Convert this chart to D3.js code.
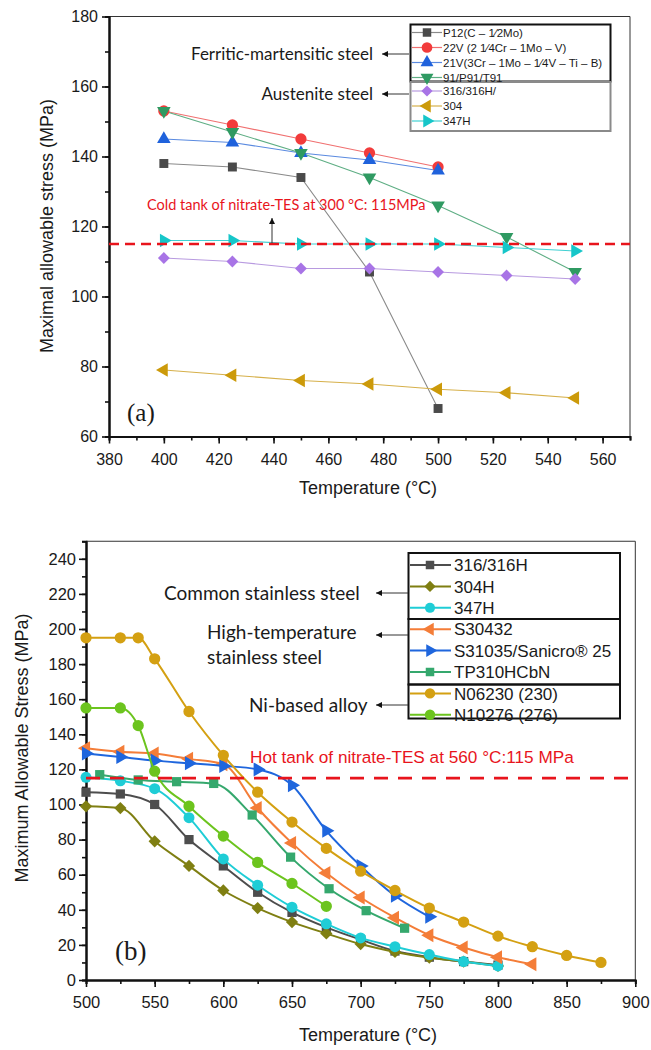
<!DOCTYPE html>
<html>
<head>
<meta charset="utf-8">
<script src="https://cdn.jsdelivr.net/npm/d3@7"></script>
<style>
  body { margin: 0; background: #fff; }
  svg { display: block; }
  text { font-family: "Liberation Sans", Arial, sans-serif; fill: #1a1a1a; }
</style>
</head>
<body>
<svg id="fig" width="651" height="1050"></svg>
<script>
// ---------- Panel (a): ferritic-martensitic and austenitic steels ----------
const tempsA = [400, 425, 450, 475, 500, 525, 550];
const p12Vals = [138, 137, 134, 107, 68];
const v22Vals = [153, 149, 145, 141, 137];
const v21Vals = [145, 144, 141, 139, 136];
const p91Vals = [153, 147, 141, 134, 126, 117, 107];
const ss316Vals = [111, 110, 108, 108, 107, 106, 105];
const ss304Vals = [79, 77.5, 76, 75, 73.5, 72.5, 71];
const ss347Vals = [116, 116, 115, 115, 115, 114, 113];
const xTicksA = [380, 400, 420, 440, 460, 480, 500, 520, 540, 560];
const yTicksA = [60, 80, 100, 120, 140, 160, 180];
const coldTankLimit = 115;
const legendNamesA = ["P12(C – 1⁄2Mo)", "22V (2 1⁄4Cr – 1Mo – V)", "21V(3Cr – 1Mo – 1⁄4V – Ti – B)",
  "91/P91/T91", "316/316H/", "304", "347H"];

// ---------- Panel (b): stainless steels and Ni-based alloys ----------
const tempsStd = [500, 525, 550, 575, 600, 625, 650, 675, 700, 725, 750, 775, 800];
const b316Vals = [107, 106, 100, 80, 65, 50, 38.5, 30, 23, 16.5, 13, 10.5, 8.5];
const b304hVals = [99, 98, 79, 65, 51, 41, 33, 26.5, 20.5, 16, 12.7, 10.5, 8];
const b347hVals = [115.5, 113.5, 109, 92.5, 69, 54, 41.5, 32, 24, 19, 14.5, 10.5, 8];
const tempsS30432 = [500, 525, 550, 575, 600, 625, 650, 675, 700, 725, 750, 775, 800, 825];
const s30432Vals = [132, 130, 129, 126, 123, 98, 78, 61, 47, 35.5, 25.5, 18.5, 13, 9];
const tempsS31035 = [500, 525, 550, 575, 600, 625, 650, 675, 700, 725, 750];
const s31035Vals = [129, 127, 125, 123.5, 122, 120, 111, 85, 65, 48, 36];
const tempsTP310 = [510, 538, 566, 593, 621, 649, 677, 704, 732];
const tp310Vals = [117, 114, 113, 112, 94, 70, 52, 39.5, 29.5];
const tempsN06230 = [500, 525, 538, 550, 575, 600, 625, 650, 675, 700, 725, 750, 775, 800, 825, 850, 875];
const n06230Vals = [195, 195, 195, 183, 153, 128, 107, 90, 75, 62, 51, 41, 33, 25, 19, 14, 10];
const tempsN10276 = [500, 525, 538, 550, 575, 600, 625, 650, 675];
const n10276Vals = [155, 155, 145, 119, 99, 82, 67, 55, 42];
const xTicksB = [500, 550, 600, 650, 700, 750, 800, 850, 900];
const yTicksB = [0, 20, 40, 60, 80, 100, 120, 140, 160, 180, 200, 220, 240];
const hotTankLimit = 115;
const legendNamesB = ["316/316H", "304H", "347H", "S30432", "S31035/Sanicro® 25", "TP310HCbN",
  "N06230 (230)", "N10276 (276)"];

const svg = d3.select("#fig");

// marker shapes: d3 symbol + rotation
const shapes = {
  square: [d3.symbolSquare, 0],
  circle: [d3.symbolCircle, 0],
  triUp: [d3.symbolTriangle, 0],
  triDown: [d3.symbolTriangle, 180],
  triLeft: [d3.symbolTriangle, -90],
  triRight: [d3.symbolTriangle, 90],
  diamond: [d3.symbolSquare, 45]
};
function drawMarker(g, shape, x, y, size, color) {
  const [type, rot] = shapes[shape];
  g.append("path")
    .attr("d", d3.symbol().type(type).size(size)())
    .attr("transform", `translate(${x},${y}) rotate(${rot})`)
    .attr("fill", color);
}

// straight pointer line ending in a small filled arrowhead at (x2, y2)
function drawArrow(g, x1, y1, x2, y2) {
  g.append("line").attr("x1", x1).attr("y1", y1).attr("x2", x2).attr("y2", y2)
    .attr("stroke", "#333").attr("stroke-width", 1);
  const ang = Math.atan2(y2 - y1, x2 - x1) * 180 / Math.PI;
  g.append("path").attr("d", "M0,0 L-6,-3 L-6,3 Z")
    .attr("transform", `translate(${x2},${y2}) rotate(${ang})`)
    .attr("fill", "#111");
}

function drawAxes(g, x, y, xTicks, yTicks, xMinor, yMinor, fontSize, padX, padY) {
  const [x0, x1] = x.range();
  const [y0, y1] = y.range();
  // thin frame on top and right
  g.append("path").attr("d", `M${x0},${y1}H${x1}V${y0}`)
    .attr("fill", "none").attr("stroke", "#333").attr("stroke-width", 1);

  const minorX = g.append("g").attr("transform", `translate(0,${y0})`)
    .call(d3.axisBottom(x).tickValues(xMinor).tickSize(4).tickFormat(""));
  const majorX = g.append("g").attr("transform", `translate(0,${y0})`)
    .call(d3.axisBottom(x).tickValues(xTicks).tickSize(7).tickPadding(padX).tickSizeOuter(0));
  const minorY = g.append("g").attr("transform", `translate(${x0},0)`)
    .call(d3.axisLeft(y).tickValues(yMinor).tickSize(4).tickFormat(""));
  const majorY = g.append("g").attr("transform", `translate(${x0},0)`)
    .call(d3.axisLeft(y).tickValues(yTicks).tickSize(7).tickPadding(padY).tickSizeOuter(0));
  [minorX, majorX, minorY, majorY].forEach(a => {
    a.selectAll("path.domain").attr("stroke", "#111").attr("stroke-width", 2);
    a.selectAll("line").attr("stroke", "#111").attr("stroke-width", 1.6);
    a.selectAll("text").attr("font-size", fontSize)
      .attr("font-family", "'Liberation Sans', Arial, sans-serif").attr("fill", "#1a1a1a");
  });
}

// ================= Panel (a) =================
const xA = d3.scaleLinear().domain([380, 570]).range([109, 630]);
const yA = d3.scaleLinear().domain([60, 180]).range([436.5, 16.5]);
const gA = svg.append("g");

drawAxes(gA, xA, yA, xTicksA, yTicksA,
  d3.range(380, 571, 10), d3.range(60, 181, 10), 16, 10, 4);

const seriesA = [
  { name: legendNamesA[0], t: tempsA, v: p12Vals, shape: "square", color: "#4a4a4a", line: "#8a8a8a", size: 80 },
  { name: legendNamesA[1], t: tempsA, v: v22Vals, shape: "circle", color: "#f23b3b", line: "#f07070", size: 100 },
  { name: legendNamesA[2], t: tempsA, v: v21Vals, shape: "triUp", color: "#1f62dc", line: "#5a8ae0", size: 80 },
  { name: legendNamesA[3], t: tempsA, v: p91Vals, shape: "triDown", color: "#2f9a62", line: "#5eae84", size: 80 },
  { name: legendNamesA[4], t: tempsA, v: ss316Vals, shape: "diamond", color: "#a874e6", line: "#b89ae0", size: 70 },
  { name: legendNamesA[5], t: tempsA, v: ss304Vals, shape: "triLeft", color: "#cc9a0a", line: "#d6b04a", size: 80 },
  { name: legendNamesA[6], t: tempsA, v: ss347Vals, shape: "triRight", color: "#16c6c9", line: "#40d0d2", size: 80 }
];

const lineA = d3.line().x(d => xA(d[0])).y(d => yA(d[1]));
seriesA.forEach(s => {
  const pts = s.v.map((v, i) => [s.t[i], v]);
  gA.append("path").attr("d", lineA(pts)).attr("fill", "none")
    .attr("stroke", s.line).attr("stroke-width", 1.1);
});
// draw markers after all lines, in series order
seriesA.forEach(s => {
  s.v.forEach((v, i) => drawMarker(gA, s.shape, xA(s.t[i]), yA(v), s.size, s.color));
});

// cold tank threshold
gA.append("line")
  .attr("x1", xA.range()[0]).attr("x2", xA.range()[1])
  .attr("y1", yA(coldTankLimit)).attr("y2", yA(coldTankLimit))
  .attr("stroke", "#e8141c").attr("stroke-width", 2.6).attr("stroke-dasharray", "10,6");
gA.append("text").attr("x", 147).attr("y", 210)
  .style("font-family", "Lato, 'Open Sans', sans-serif").attr("font-size", 14.5)
  .style("fill", "#e8141c")
  .text(`Cold tank of nitrate-TES at 300 °C: ${coldTankLimit}MPa`);
drawArrow(gA, 272, yA(coldTankLimit) - 1, 272, 218);

// legend (a)
const legA = gA.append("g");
legA.append("rect").attr("x", 410.5).attr("y", 24.5).attr("width", 200).attr("height", 57)
  .attr("fill", "#fff").attr("stroke", "#111").attr("stroke-width", 2);
legA.append("rect").attr("x", 410.5).attr("y", 82).attr("width", 200).attr("height", 49)
  .attr("fill", "#fff").attr("stroke", "#8a8a8a").attr("stroke-width", 2);
seriesA.forEach((s, i) => {
  const yy = 32.5 + i * 15 - (i >= 4 ? 1.5 : 0);
  legA.append("line").attr("x1", 412).attr("x2", 442).attr("y1", yy).attr("y2", yy)
    .attr("stroke", s.line).attr("stroke-width", 1.2);
  drawMarker(legA, s.shape, 427, yy, s.size * 0.9, s.color);
  legA.append("text").attr("x", 443).attr("y", yy).attr("dy", "0.36em")
    .attr("font-size", 11.5).text(s.name);
});

// group labels (a)
const groupFont = "Lato, 'Open Sans', sans-serif";
[["Ferritic-martensitic steel", 54], ["Austenite steel", 94]].forEach(([label, yy]) => {
  drawArrow(gA, 409, yy, 382, yy);
  gA.append("text").attr("x", 373).attr("y", yy).attr("dy", "0.36em")
    .attr("text-anchor", "end").style("font-family", groupFont).attr("font-size", 17)
    .text(label);
});

// titles (a)
gA.append("text").attr("x", 368).attr("y", 494).attr("text-anchor", "middle")
  .attr("font-size", 18).text("Temperature (°C)");
gA.append("text").attr("transform", `translate(47,226) rotate(-90)`)
  .attr("text-anchor", "middle").attr("dy", "0.36em")
  .attr("font-size", 18).text("Maximal allowable stress (MPa)");
gA.append("text").attr("x", 127).attr("y", 421)
  .style("font-family", "'Liberation Serif', 'DejaVu Serif', serif").attr("font-size", 25).text("(a)");

// ================= Panel (b) =================
const xB = d3.scaleLinear().domain([500, 900]).range([86, 635.3]);
const yB = d3.scaleLinear().domain([0, 250]).range([980, 541.25]);
const gB = svg.append("g");

drawAxes(gB, xB, yB, xTicksB, yTicksB,
  d3.range(500, 901, 25), d3.range(0, 251, 10), 16.5, 9, 3);

const seriesB = [
  { name: legendNamesB[0], t: tempsStd, v: b316Vals, shape: "square", color: "#4d4d4d", size: 85 },
  { name: legendNamesB[1], t: tempsStd, v: b304hVals, shape: "diamond", color: "#7f7f12", size: 75 },
  { name: legendNamesB[2], t: tempsStd, v: b347hVals, shape: "circle", color: "#1fcdd6", size: 95 },
  { name: legendNamesB[3], t: tempsS30432, v: s30432Vals, shape: "triLeft", color: "#f47d38", size: 85 },
  { name: legendNamesB[4], t: tempsS31035, v: s31035Vals, shape: "triRight", color: "#1f66dd", size: 85 },
  { name: legendNamesB[5], t: tempsTP310, v: tp310Vals, shape: "square", color: "#35a86d", size: 85 },
  { name: legendNamesB[6], t: tempsN06230, v: n06230Vals, shape: "circle", color: "#d4a012", size: 100 },
  { name: legendNamesB[7], t: tempsN10276, v: n10276Vals, shape: "circle", color: "#6cc41e", size: 100 }
];

const lineB = d3.line().curve(d3.curveMonotoneX).x(d => xB(d[0])).y(d => yB(d[1]));
seriesB.forEach(s => {
  const pts = s.v.map((v, i) => [s.t[i], v]);
  gB.append("path").attr("d", lineB(pts)).attr("fill", "none")
    .attr("stroke", s.color).attr("stroke-width", 2);
  s.v.forEach((v, i) => drawMarker(gB, s.shape, xB(s.t[i]), yB(v), s.size, s.color));
});

// hot tank threshold
gB.append("line")
  .attr("x1", xB.range()[0]).attr("x2", xB.range()[1])
  .attr("y1", yB(hotTankLimit)).attr("y2", yB(hotTankLimit))
  .attr("stroke", "#e8141c").attr("stroke-width", 2.8).attr("stroke-dasharray", "14,10");
gB.append("text").attr("x", 250).attr("y", 763)
  .attr("font-size", 17.2).style("fill", "#e8141c")
  .text(`Hot tank of nitrate-TES at 560 °C:${hotTankLimit} MPa`);

// legend (b)
const legB = gB.append("g");
[[553, 66], [619, 65.5], [684.5, 34]].forEach(([y0, h]) => {
  legB.append("rect").attr("x", 408.5).attr("y", y0).attr("width", 211.5).attr("height", h)
    .attr("fill", "none").attr("stroke", "#111").attr("stroke-width", 2);
});
seriesB.forEach((s, i) => {
  const yy = 565 + i * 21.4;
  legB.append("line").attr("x1", 410).attr("x2", 451).attr("y1", yy).attr("y2", yy)
    .attr("stroke", s.color).attr("stroke-width", 2);
  drawMarker(legB, s.shape, 430, yy, s.size * 0.85, s.color);
  legB.append("text").attr("x", 454).attr("y", yy).attr("dy", "0.36em")
    .attr("font-size", 17).text(s.name);
});

// group labels (b)
const groupsB = [
  { lines: ["Common stainless steel"], x: 164, y: 593, ay: 593 },
  { lines: ["High-temperature", "stainless steel"], x: 207, y: 632, ay: 635 },
  { lines: ["Ni-based alloy"], x: 249, y: 705, ay: 705 }
];
groupsB.forEach(gr => {
  drawArrow(gB, 408, gr.ay, 376, gr.ay);
  gr.lines.forEach((ln, k) => {
    gB.append("text").attr("x", gr.x).attr("y", gr.y + k * 25).attr("dy", "0.36em")
      .style("font-family", groupFont).attr("font-size", 19).text(ln);
  });
});

// titles (b)
gB.append("text").attr("x", 368).attr("y", 1041).attr("text-anchor", "middle")
  .attr("font-size", 18).text("Temperature (°C)");
gB.append("text").attr("transform", `translate(22,748) rotate(-90)`)
  .attr("text-anchor", "middle").attr("dy", "0.36em")
  .attr("font-size", 18).text("Maximum Allowable Stress (MPa)");
gB.append("text").attr("x", 115).attr("y", 960)
  .style("font-family", "'Liberation Serif', 'DejaVu Serif', serif").attr("font-size", 27).text("(b)");
</script>
</body>
</html>
